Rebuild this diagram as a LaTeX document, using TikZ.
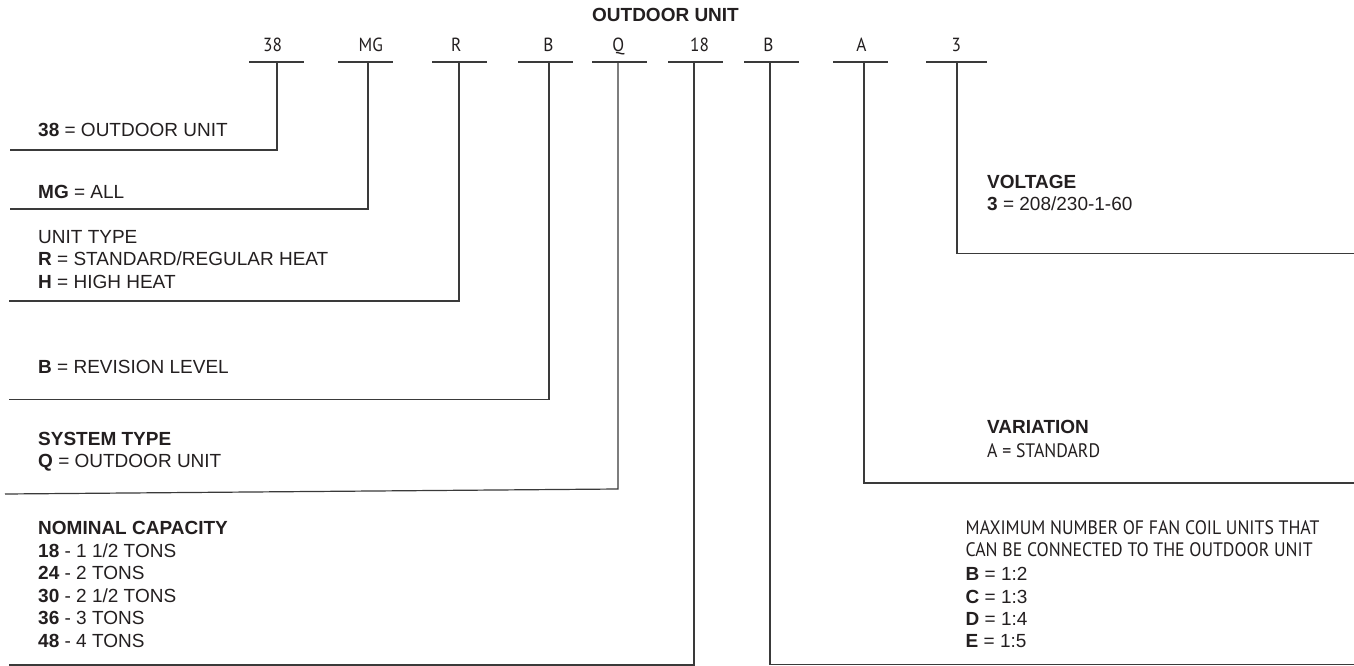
\documentclass[tikz,border=0pt]{standalone}
\usepackage{fontspec}
\setmainfont{Liberation Sans}
\newfontfamily\myr[FakeStretch=0.91]{PT Sans}
\definecolor{ink}{HTML}{231F20}
\definecolor{rulec}{HTML}{3A3A3A}
\tikzset{
  lbl/.style={anchor=base west, inner sep=0pt, text=ink, font=\fontsize{19}{22.5}\selectfont},
  mlbl/.style={anchor=base west, inner sep=0pt, text=ink, font=\myr\fontsize{19.5}{22.5}\selectfont},
  code/.style={anchor=base, inner sep=0pt, text=ink, font=\myr\fontsize{19}{21}\selectfont},
  bar/.style={inner sep=0pt, minimum width=55pt, minimum height=0pt, outer sep=0pt},
  conn/.style={draw=rulec, line width=1.2pt},
}
\begin{document}
\begin{tikzpicture}[x=1pt,y=-1pt]
\useasboundingbox[fill=white] (0,0) rectangle (1354,666);

% title
\node[anchor=base, inner sep=0pt, text=ink, font=\fontsize{19}{22.5}\selectfont\bfseries] (title) at (665.5,21.7) {OUTDOOR UNIT};

% code letters
\node[code] (c38) at (272.5,51.7) {38};
\node[code] (cMG) at (370.8,51.7) {MG};
\node[code] (cR)  at (456.3,51.7) {R};
\node[code] (cB)  at (548.3,51.7) {B};
\node[code] (cQ)  at (618.3,51.7) {Q};
\node[code] (c18) at (699.5,51.7) {18};
\node[code] (cB2) at (768.3,51.7) {B};
\node[code] (cA)  at (861.3,51.7) {A};
\node[code] (c3)  at (956.2,51.7) {3};

% underlines
\node[bar] (b38) at (276.5,62) {};
\node[bar] (bMG) at (365.5,62) {};
\node[bar] (bR)  at (459.5,62) {};
\node[bar] (bB)  at (545.5,62) {};
\node[bar] (bQ)  at (619.5,62) {};
\node[bar] (b18) at (695.5,62) {};
\node[bar] (bB2) at (771.5,62) {};
\node[bar] (bA)  at (860.5,62) {};
\node[bar,minimum width=61pt] (b3) at (956.5,62) {};
\foreach \n in {b38,bMG,bR,bB,bQ,b18,bB2,bA,b3}
  \draw[conn] (\n.west) -- (\n.east);

% connector start points and ends
\coordinate (v38) at (277,62);   \coordinate (e38) at (10,150);
\coordinate (vMG) at (368,62);   \coordinate (eMG) at (10,209);
\coordinate (vR)  at (459,62);   \coordinate (eR)  at (9,301);
\coordinate (vB)  at (549,62);   \coordinate (eB)  at (9,399.5);
\coordinate (vQ)  at (618,62);   \coordinate (kQ)  at (618,489); \coordinate (eQ) at (5,494);
\coordinate (v18) at (694,62);   \coordinate (e18) at (9,665);
\coordinate (vB2) at (770,62);   \coordinate (eB2) at (1354,664.5);
\coordinate (vA)  at (864,62);   \coordinate (eA)  at (1354,483);
\coordinate (v3)  at (957,62);   \coordinate (e3)  at (1354,253.5);

\draw[conn] (v38) |- (e38);
\draw[conn] (vMG) |- (eMG);
\draw[conn] (vR)  |- (eR);
\draw[conn] (vB)  |- (eB);
\draw[conn] (vQ) -- (kQ) -- (eQ);
\draw[conn] (v18) |- (e18);
\draw[conn] (vB2) |- (eB2);
\draw[conn] (vA)  |- (eA);
\draw[conn] (v3)  |- (e3);

% left labels
\node[lbl] (l38) at (38,136) {\textbf{38} = OUTDOOR UNIT};
\node[lbl] (lMG) at (38,198) {\textbf{MG} = ALL};
\node[lbl] (lR0) at (38,243) {UNIT TYPE};
\node[lbl] (lR1) at (38,265.5) {\textbf{R} = STANDARD/REGULAR HEAT};
\node[lbl] (lR2) at (38,288) {\textbf{H} = HIGH HEAT};
\node[lbl] (lB)  at (38,373) {\textbf{B} = REVISION LEVEL};
\node[lbl] (lQ0) at (38,445) {\textbf{SYSTEM TYPE}};
\node[lbl] (lQ1) at (38,467.5) {\textbf{Q} = OUTDOOR UNIT};
\node[lbl] (lN0) at (38,534) {\textbf{NOMINAL CAPACITY}};
\node[lbl] (lN1) at (38,557) {\textbf{18} - 1 1/2 TONS};
\node[lbl] (lN2) at (38,579.5) {\textbf{24} - 2 TONS};
\node[lbl] (lN3) at (38,602) {\textbf{30} - 2 1/2 TONS};
\node[lbl] (lN4) at (38,624.5) {\textbf{36} - 3 TONS};
\node[lbl] (lN5) at (38,647) {\textbf{48} - 4 TONS};

% right labels
\node[lbl] (lV0) at (987,188) {\textbf{VOLTAGE}};
\node[lbl] (lV1) at (987,210.5) {\textbf{3} = 208/230-1-60};
\node[lbl] (lA0) at (987,433.5) {\textbf{VARIATION}};
\node[mlbl] (lA1) at (987,457) {A = STANDARD};
\node[mlbl] (lM0) at (965.5,534) {MAXIMUM NUMBER OF FAN COIL UNITS THAT};
\node[mlbl] (lM1) at (965.5,556.5) {CAN BE CONNECTED TO THE OUTDOOR UNIT};
\node[lbl] (lM2) at (965.5,580.5) {\textbf{B} = 1:2};
\node[lbl] (lM3) at (965.5,603) {\textbf{C} = 1:3};
\node[lbl] (lM4) at (965.5,625) {\textbf{D} = 1:4};
\node[lbl] (lM5) at (965.5,647.3) {\textbf{E} = 1:5};
\end{tikzpicture}
\end{document}
